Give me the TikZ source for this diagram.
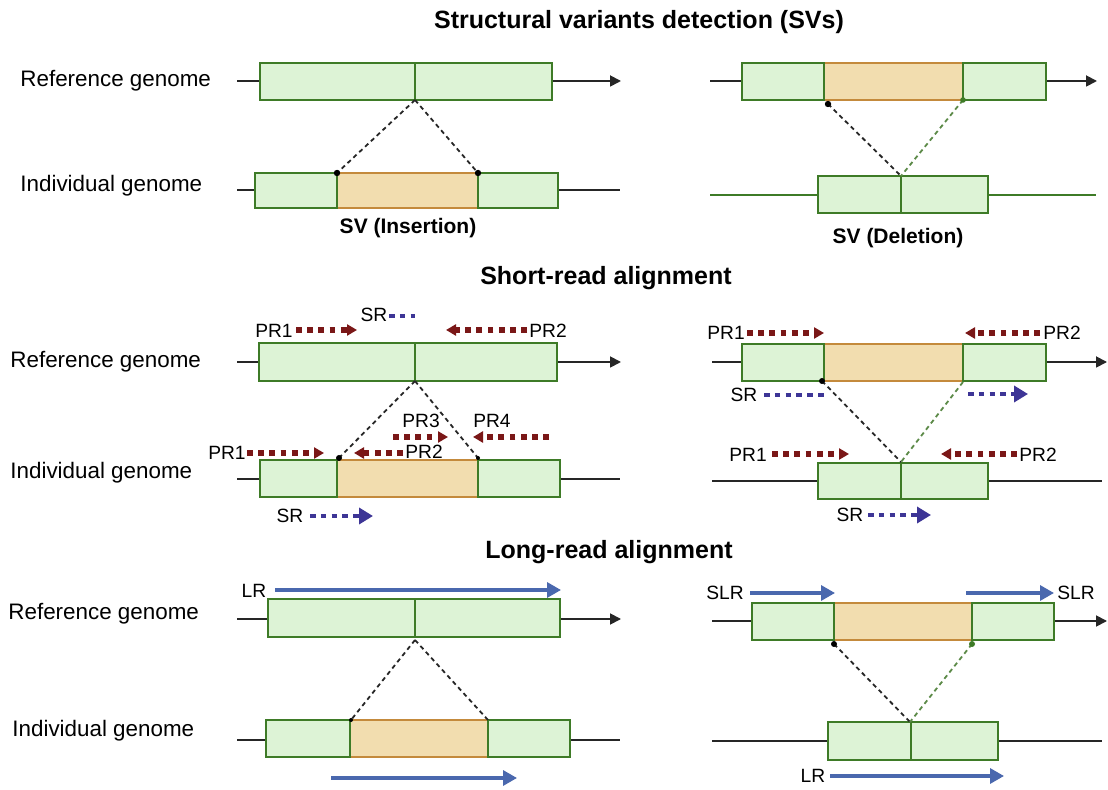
\documentclass[tikz,border=0pt]{standalone}
\usepackage{fontspec}
\setmainfont{Liberation Sans}
\usetikzlibrary{arrows.meta}

\definecolor{gfill}{HTML}{DDF3D6}
\definecolor{gline}{HTML}{3E7B27}
\definecolor{glink}{HTML}{5C8A48}
\definecolor{ofill}{HTML}{F2DDAF}
\definecolor{oline}{HTML}{C48A3C}
\definecolor{prred}{HTML}{7A1717}
\definecolor{srblue}{HTML}{3D3596}
\definecolor{lrblue}{HTML}{4A68AE}

\tikzset{
  seg/.style={draw=gline, fill=gfill, line width=1.2pt},
  thinseg/.style={draw=gline, fill=gfill, line width=0.8pt},
  sv/.style={draw=oline, fill=ofill, line width=1.2pt},
  chrom/.style={draw=black!85, line width=0.9pt},
  chromarr/.style={chrom, -{Triangle[length=5.5pt, width=5.5pt]}},
  link/.style={draw=black!85, line width=0.9pt, dash pattern=on 2.2pt off 1.8pt},
  glinkline/.style={link, draw=glink},
  pr/.style={draw=prred, line width=2.6pt, dash pattern=on 2.9pt off 2.7pt,
    -{Triangle[length=5pt, width=5.5pt]}},
  sr/.style={draw=srblue, line width=2pt, dash pattern=on 2.8pt off 2.6pt},
  srarr/.style={sr, -{Triangle[length=7pt, width=8pt]}},
  lr/.style={draw=lrblue, line width=1.6pt, -{Triangle[length=7pt, width=7.5pt]}},
  gname/.style={anchor=west, inner sep=0pt, font=\fontsize{11.2}{13}\selectfont},
  ttl/.style={inner sep=0pt, font=\fontsize{12.5}{14}\selectfont\bfseries},
  svname/.style={inner sep=0pt, font=\fontsize{10.5}{12}\selectfont\bfseries},
  lbl/.style={inner sep=0pt, font=\fontsize{9.6}{11}\selectfont},
}

\begin{document}
\begin{tikzpicture}[x=0.5pt, y=-0.5pt]
  \useasboundingbox[fill=white] (0,0) rectangle (1108,790);

  % section titles
  \node[ttl] (ttlsv) at (639,22) {Structural variants detection (SVs)};
  \node[ttl] (ttlsr) at (606,278) {Short-read alignment};
  \node[ttl] (ttllr) at (609,552) {Long-read alignment};

  % ---------- SV: insertion ----------
  \node[gname] (refa) at (20,81) {Reference genome};
  \node[gname] (inda) at (20,186) {Individual genome};
  \draw[chromarr] (237,81) -- (621,81);
  \draw[seg] (260,63) rectangle (415,100);
  \draw[seg] (415,63) rectangle (552,100);
  \coordinate (refabrk) at (415,100);
  \draw[chrom] (237,190) -- (620,190);
  \draw[sv] (337,173) rectangle (478,208);
  \draw[seg] (255,173) rectangle (337,208);
  \draw[seg] (478,173) rectangle (558,208);
  \coordinate (indains) at (337,173);
  \coordinate (indaend) at (478,173);
  \draw[link] (refabrk) -- (indains);
  \draw[link] (refabrk) -- (indaend);
  \fill (indains) circle[radius=1.6pt];
  \fill (indaend) circle[radius=1.6pt];
  \node[svname] (svins) at (408,228) {SV (Insertion)};

  % ---------- SV: deletion ----------
  \draw[chromarr] (710,81) -- (1097,81);
  \draw[sv] (824,63) rectangle (963,100);
  \draw[seg] (742,63) rectangle (824,100);
  \draw[seg] (963,63) rectangle (1046,100);
  \coordinate (refbdel) at (828,104);
  \coordinate (refbend) at (963,100);
  \draw[chrom, draw=gline] (710,195) -- (1096,195);
  \draw[thinseg] (818,176) rectangle (901,213);
  \draw[thinseg] (901,176) rectangle (988,213);
  \coordinate (indbbrk) at (901,176);
  \draw[link] (refbdel) -- (indbbrk);
  \draw[glinkline] (refbend) -- (indbbrk);
  \fill (refbdel) circle[radius=1.6pt];
  \fill[gline] (refbend) circle[radius=1.4pt];
  \node[svname] (svdel) at (898,238) {SV (Deletion)};

  % ---------- short reads: insertion ----------
  \node[gname] (refc) at (10,362) {Reference genome};
  \node[gname] (indc) at (10,473) {Individual genome};
  \draw[chromarr] (237,362) -- (621,362);
  \draw[seg] (259,343) rectangle (415,381);
  \draw[seg] (415,343) rectangle (557,381);
  \coordinate (refcbrk) at (415,381);
  \node[lbl] (crp1) at (274,331) {PR1};
  \draw[pr] (296,330) -- (357,330);
  \node[lbl] (crsr) at (374,315) {SR};
  \draw[sr] (389,316) -- (415,316);
  \draw[pr] (527,330) -- (446,330);
  \node[lbl, anchor=west] (crp2) at (529,331) {PR2};
  \draw[chrom] (237,479) -- (620,479);
  \draw[sv] (337,460) rectangle (478,497);
  \draw[seg] (260,460) rectangle (337,497);
  \draw[seg] (478,460) rectangle (560,497);
  \coordinate (indcins) at (339,458);
  \coordinate (indcend) at (478,458);
  \draw[link] (refcbrk) -- (indcins);
  \draw[link] (refcbrk) -- (indcend);
  \fill (indcins) circle[radius=1.5pt];
  \fill (indcend) circle[radius=1pt];
  \node[lbl] (cip1) at (227,453) {PR1};
  \draw[pr] (247,453) -- (324,453);
  \draw[pr] (403,453) -- (354,453);
  \node[lbl, anchor=west] (cip2) at (405,452) {PR2};
  \node[lbl] (cip3) at (421,421) {PR3};
  \draw[pr] (393,437) -- (448,437);
  \node[lbl] (cip4) at (492,421) {PR4};
  \draw[pr] (549,437) -- (473,437);
  \node[lbl] (cisr) at (290,516) {SR};
  \draw[srarr] (310,516) -- (373,516);

  % ---------- short reads: deletion ----------
  \draw[chromarr] (712,362) -- (1107,362);
  \draw[sv] (824,344) rectangle (963,381);
  \draw[seg] (742,344) rectangle (824,381);
  \draw[seg] (963,344) rectangle (1046,381);
  \coordinate (refddel) at (822,381);
  \coordinate (refdend) at (963,382);
  \node[lbl] (drp1) at (726,333) {PR1};
  \draw[pr] (747,333) -- (824,333);
  \draw[pr] (1040,333) -- (965,333);
  \node[lbl, anchor=west] (drp2) at (1043,333) {PR2};
  \node[lbl] (drsr) at (744,395) {SR};
  \draw[sr] (764,395) -- (824,395);
  \draw[srarr] (968,394) -- (1028,394);
  \draw[chrom] (712,481) -- (1102,481);
  \draw[seg] (818,463) rectangle (901,499);
  \draw[seg] (901,463) rectangle (988,499);
  \coordinate (inddbrk) at (901,462);
  \draw[link] (refddel) -- (inddbrk);
  \draw[glinkline] (refdend) -- (inddbrk);
  \fill (refddel) circle[radius=1.5pt];
  \node[lbl] (dip1) at (748,455) {PR1};
  \draw[pr] (772,454) -- (849,454);
  \draw[pr] (1017,454) -- (941,454);
  \node[lbl, anchor=west] (dip2) at (1019,455) {PR2};
  \node[lbl] (disr) at (850,515) {SR};
  \draw[srarr] (868,515) -- (931,515);

  % ---------- long reads: insertion ----------
  \node[gname] (refe) at (8,614) {Reference genome};
  \node[gname] (inde) at (12,731) {Individual genome};
  \node[lbl] (erlr) at (254,591) {LR};
  \draw[lr] (275,590) -- (561,590);
  \draw[chromarr] (237,619) -- (621,619);
  \draw[seg] (268,599) rectangle (415,637);
  \draw[seg] (415,599) rectangle (560,637);
  \coordinate (refebrk) at (415,640);
  \draw[chrom] (237,740) -- (620,740);
  \draw[sv] (350,720) rectangle (488,757);
  \draw[seg] (266,720) rectangle (350,757);
  \draw[seg] (488,720) rectangle (570,757);
  \coordinate (indeins) at (351,720);
  \coordinate (indeend) at (488,720);
  \draw[link] (refebrk) -- (indeins);
  \draw[link] (refebrk) -- (indeend);
  \fill (indeins) circle[radius=1pt];
  \draw[lr] (331,778) -- (517,778);

  % ---------- long reads: deletion ----------
  \node[lbl] (frs1) at (725,593) {SLR};
  \draw[lr] (750,593) -- (835,593);
  \draw[lr] (966,593) -- (1054,593);
  \node[lbl, anchor=west] (frs2) at (1057,593) {SLR};
  \draw[chromarr] (712,621) -- (1107,621);
  \draw[sv] (834,603) rectangle (972,640);
  \draw[seg] (752,603) rectangle (834,640);
  \draw[seg] (972,603) rectangle (1054,640);
  \coordinate (reffdel) at (834,644);
  \coordinate (reffend) at (972,644);
  \draw[chrom] (712,741) -- (1102,741);
  \draw[seg] (828,722) rectangle (911,760);
  \draw[seg] (911,722) rectangle (998,760);
  \coordinate (indfbrk) at (910,722);
  \draw[link] (reffdel) -- (indfbrk);
  \draw[glinkline] (reffend) -- (indfbrk);
  \fill (reffdel) circle[radius=1.5pt];
  \fill[gline] (reffend) circle[radius=1.5pt];
  \node[lbl] (filr) at (813,776) {LR};
  \draw[lr] (830,776) -- (1004,776);
\end{tikzpicture}
\end{document}
